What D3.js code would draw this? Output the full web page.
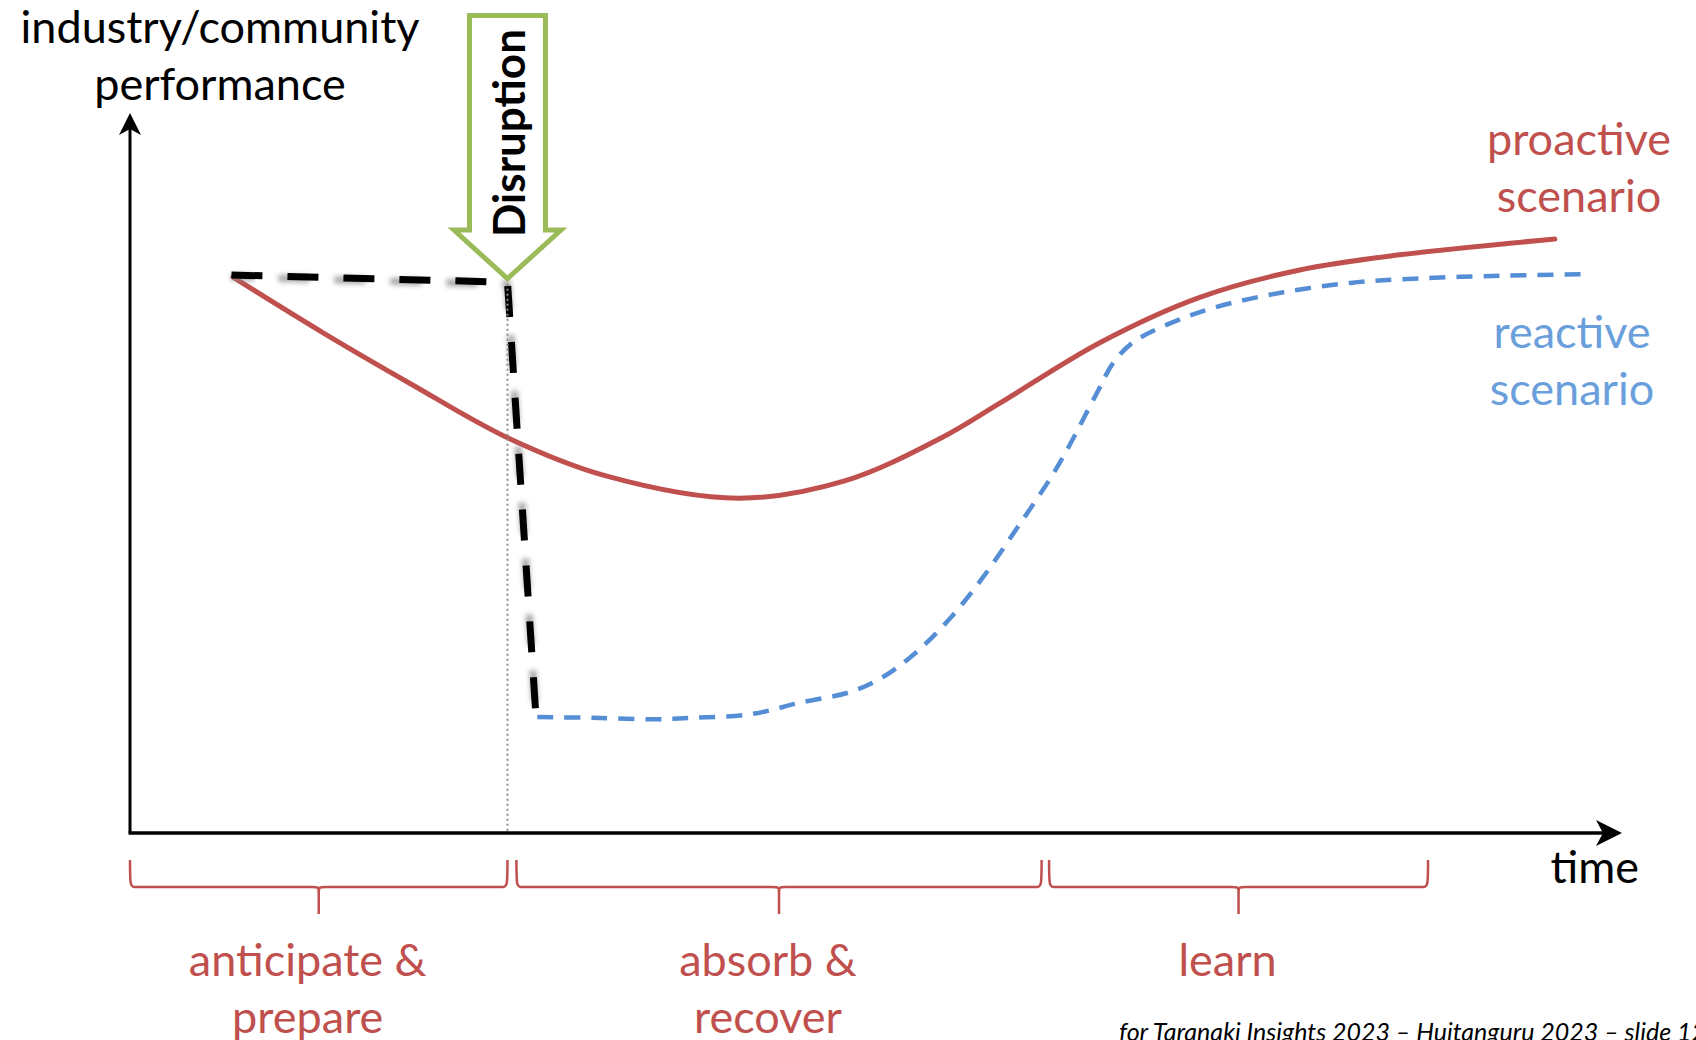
<!DOCTYPE html>
<html>
<head>
<meta charset="utf-8">
<script src="https://cdn.jsdelivr.net/npm/d3@7/dist/d3.min.js"></script>
<style>
  html, body { margin: 0; padding: 0; background: #fff; }
  svg { display: block; }
  text { font-family: Lato, "Noto Sans", sans-serif; }
</style>
</head>
<body>
<svg id="chart" width="1696" height="1040"></svg>
<script>
// Time runs 0..100 along the horizontal axis, performance 0..100 up the vertical one.
const proactiveTime = [6.9, 13.0, 18.8, 25.3, 31.9, 40.8, 47.9, 54.4, 58.3, 65.0, 71.7, 78.4, 85.1, 95.5];
const proactivePerf = [77.2, 69.4, 62.4, 54.9, 49.6, 46.5, 48.9, 54.9, 59.7, 68.1, 74.4, 78.2, 80.3, 82.5];

const reactiveTime = [27.3, 31.0, 35.1, 37.7, 41.6, 44.9, 48.3, 50.5, 52.7, 55.0, 57.2, 59.5, 61.7, 62.8, 64.8, 65.9, 67.2, 69.5, 72.9, 77.3, 81.8, 85.1, 91.8, 97.7];
const reactivePerf = [16.1, 16.0, 15.8, 16.0, 16.5, 18.1, 19.6, 21.7, 25.1, 29.9, 35.6, 42.5, 49.3, 53.2, 61.1, 65.3, 68.1, 70.6, 73.1, 75.1, 76.4, 76.9, 77.4, 77.6];

// Expected level before the shock and the sudden drop at the disruption.
const shockTime = [6.8, 25.3, 27.2];
const shockPerf = [77.5, 76.5, 16.5];

const disruptionTime = 25.3;
const disruptionPerf = 76.3;

const phaseLabels = [["anticipate &", "prepare"], ["absorb &", "recover"], ["learn"]];
const phaseStart = [0, 25.9, 61.6];
const phaseEnd = [25.3, 61.1, 87.0];

const RED = "#C0504D", BLUE = "#558ED5", BLUE_TEXT = "#6A9FDC", GREEN = "#9BBB59";

const svg = d3.select("#chart");
const x = d3.scaleLinear().domain([0, 100]).range([130, 1622]);
const y = d3.scaleLinear().domain([0, 100]).range([833, 113]);

const defs = svg.append("defs");
defs.append("filter").attr("id", "smudge").attr("x", "-20%").attr("y", "-20%").attr("width", "140%").attr("height", "140%")
  .append("feGaussianBlur").attr("stdDeviation", 2.5);

const curve = d3.line().x(d => x(d[0])).y(d => y(d[1])).curve(d3.curveCatmullRom.alpha(0.5));
const straight = d3.line().x(d => x(d[0])).y(d => y(d[1]));

// proactive scenario
svg.append("path")
  .attr("d", curve(d3.zip(proactiveTime, proactivePerf)))
  .attr("fill", "none").attr("stroke", RED).attr("stroke-width", 5).attr("stroke-linecap", "round");

// reactive scenario
svg.append("path")
  .attr("d", curve(d3.zip(reactiveTime, reactivePerf)))
  .attr("fill", "none").attr("stroke", BLUE).attr("stroke-width", 4.5)
  .attr("stroke-dasharray", "16 11");

// expected trajectory + shock, with a soft grey trail behind each dash
const shock = d3.zip(shockTime, shockPerf);
svg.append("path")
  .attr("d", straight(shock))
  .attr("fill", "none").attr("stroke", "#8a8a8a").attr("stroke-width", 7)
  .attr("stroke-dasharray", "31 25").attr("stroke-dashoffset", 9)
  .attr("transform", "translate(0,2)")
  .attr("filter", "url(#smudge)").attr("opacity", 0.75);
svg.append("path")
  .attr("d", straight(shock))
  .attr("fill", "none").attr("stroke", "#000").attr("stroke-width", 7)
  .attr("stroke-dasharray", "31 25");

// moment of disruption
svg.append("line")
  .attr("x1", x(disruptionTime)).attr("x2", x(disruptionTime))
  .attr("y1", y(disruptionPerf)).attr("y2", y(0))
  .attr("stroke", "#8c8c8c").attr("stroke-width", 2).attr("stroke-dasharray", "2 3");

// axes
svg.append("line").attr("x1", x(0)).attr("y1", y(0)).attr("x2", x(0)).attr("y2", y(100) + 10)
  .attr("stroke", "#000").attr("stroke-width", 3);
svg.append("line").attr("x1", x(0) - 1.5).attr("y1", y(0)).attr("x2", x(100) - 10).attr("y2", y(0))
  .attr("stroke", "#000").attr("stroke-width", 3.5);
// arrow heads
const tipUp = [x(0), y(100)], tipRight = [x(100), y(0)];
svg.append("path")
  .attr("d", `M${tipUp[0]},${tipUp[1]} L${tipUp[0] + 11},${tipUp[1] + 22} L${tipUp[0]},${tipUp[1] + 16} L${tipUp[0] - 11},${tipUp[1] + 22} Z`)
  .attr("fill", "#000");
svg.append("path")
  .attr("d", `M${tipRight[0]},${tipRight[1]} L${tipRight[0] - 26},${tipRight[1] - 13} L${tipRight[0] - 19},${tipRight[1]} L${tipRight[0] - 26},${tipRight[1] + 13} Z`)
  .attr("fill", "#000");

// Disruption arrow
const ax = x(disruptionTime), arrowTip = y(disruptionPerf) - 5;
svg.append("path")
  .attr("d", `M${ax - 38},15.5 L${ax + 38},15.5 L${ax + 38},230 L${ax + 53.5},230 L${ax},${arrowTip} L${ax - 53.5},230 L${ax - 38},230 Z`)
  .attr("fill", "#fff").attr("stroke", GREEN).attr("stroke-width", 5).attr("stroke-linejoin", "miter");
svg.append("text")
  .attr("transform", `translate(${ax + 18},133) rotate(-90)`)
  .attr("text-anchor", "middle")
  .attr("font-size", 44).attr("font-weight", 700).attr("fill", "#000")
  .text("Disruption");

// axis titles
svg.append("text").attr("x", 220).attr("y", 43).attr("text-anchor", "middle")
  .attr("font-size", 45).attr("fill", "#000").text("industry/community");
svg.append("text").attr("x", 220).attr("y", 100).attr("text-anchor", "middle")
  .attr("font-size", 45).attr("fill", "#000").text("performance");
svg.append("text").attr("x", 1639).attr("y", 883).attr("text-anchor", "end")
  .attr("font-size", 45).attr("fill", "#000").text("time");

// scenario labels
[["proactive", 155], ["scenario", 212]].forEach(([t, by]) =>
  svg.append("text").attr("x", 1579).attr("y", by).attr("text-anchor", "middle")
    .attr("font-size", 45).attr("fill", RED).text(t));
[["reactive", 348], ["scenario", 405]].forEach(([t, by]) =>
  svg.append("text").attr("x", 1572).attr("y", by).attr("text-anchor", "middle")
    .attr("font-size", 45).attr("fill", BLUE_TEXT).text(t));

// phase braces
const braceTop = 860, braceMid = 887, braceStem = 914, r = 7;
phaseLabels.forEach((lines, i) => {
  const x0 = x(phaseStart[i]), x1 = x(phaseEnd[i]), cx = (x0 + x1) / 2;
  const d = `M${x0},${braceTop} C${x0},${braceMid} ${x0},${braceMid} ${x0 + r},${braceMid} L${cx - r},${braceMid} ` +
            `C${cx},${braceMid} ${cx},${braceMid} ${cx},${braceMid + r} L${cx},${braceStem} M${cx},${braceMid + r} ` +
            `C${cx},${braceMid} ${cx},${braceMid} ${cx + r},${braceMid} L${x1 - r},${braceMid} C${x1},${braceMid} ${x1},${braceMid} ${x1},${braceTop}`;
  svg.append("path").attr("d", d).attr("fill", "none").attr("stroke", RED).attr("stroke-width", 2.5);
  lines.forEach((t, j) =>
    svg.append("text").attr("x", cx - 11).attr("y", 976 + j * 57).attr("text-anchor", "middle")
      .attr("font-size", 45).attr("fill", RED).text(t));
});

// footer
svg.append("text").attr("x", 1119).attr("y", 1041)
  .attr("font-size", 25).attr("font-style", "italic").attr("fill", "#000")
  .text("for Taranaki Insights 2023 – Huitanguru 2023 – slide 12");
</script>
</body>
</html>
